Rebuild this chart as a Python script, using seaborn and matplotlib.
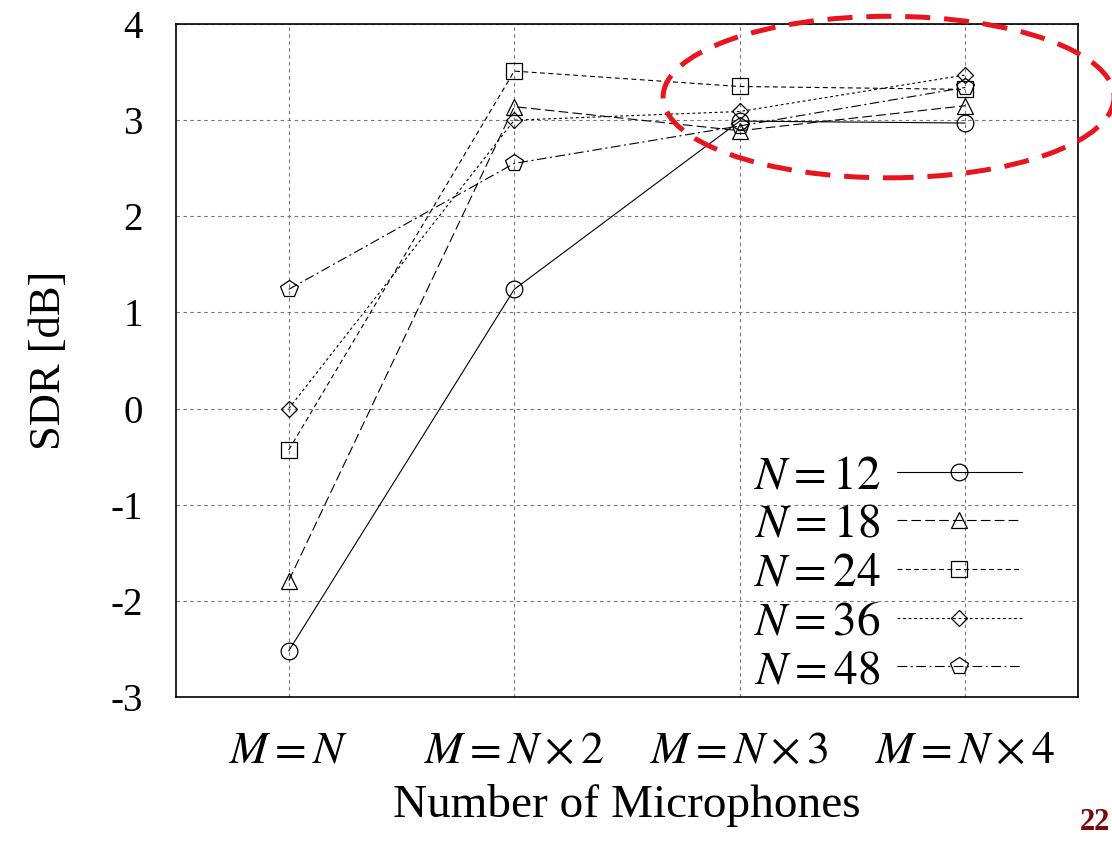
import numpy as np
import pandas as pd
import matplotlib
matplotlib.use("Agg")
import matplotlib.pyplot as plt
import seaborn as sns
from matplotlib.patches import Ellipse

# data
x_pos = [1, 2, 3, 4]
x_labels = [r"$M=N$", r"$M=N\times 2$", r"$M=N\times 3$", r"$M=N\times 4$"]
n_labels = [r"$N=12$", r"$N=18$", r"$N=24$", r"$N=36$", r"$N=48$"]
sdr_12 = [-2.52, 1.24, 2.99, 2.97]
sdr_18 = [-1.79, 3.14, 2.89, 3.15]
sdr_24 = [-0.43, 3.51, 3.35, 3.32]
sdr_36 = [0.00, 3.00, 3.09, 3.47]
sdr_48 = [1.24, 2.55, 2.94, 3.34]

sns.set_style("white")
plt.rcParams["font.family"] = ["Liberation Serif", "DejaVu Serif"]
plt.rcParams["mathtext.fontset"] = "stix"
plt.rcParams["lines.scale_dashes"] = False
plt.rcParams["axes.unicode_minus"] = False
plt.rcParams["text.color"] = "black"
plt.rcParams["axes.labelcolor"] = "black"
plt.rcParams["xtick.color"] = "black"
plt.rcParams["ytick.color"] = "black"

fig = plt.figure(figsize=(11.12, 8.41), dpi=100)
ax = fig.add_axes([176 / 1112, 1 - 697 / 841, (1078 - 176) / 1112, (697 - 24) / 841])

series = [sdr_12, sdr_18, sdr_24, sdr_36, sdr_48]
styles = [
    ("-", "o", 12),
    ((0, (7, 3)), "^", 12),
    ((0, (3.5, 2.5)), "s", 12),
    ((0, (2, 2)), "D", 8.5),
    ((0, (7, 2.5, 1.5, 2.5)), "p", 13),
]

for vals, lab, (ls, mk, ms) in zip(series, n_labels, styles):
    df = pd.DataFrame({"x": x_pos, "y": vals})
    sns.lineplot(data=df, x="x", y="y", ax=ax, color="black", linewidth=0.8,
                 linestyle=ls, marker=mk, markersize=ms, markerfacecolor="none",
                 markeredgecolor="black", markeredgewidth=0.9, label=lab)

ax.set_xlim(0.5, 4.5)
ax.set_ylim(-3, 4)
ax.set_xticks(x_pos)
ax.set_xticklabels(x_labels)
ax.set_yticks(range(-3, 5))
ax.grid(True, color="#777777", linestyle=(0, (2.5, 2.5)), linewidth=0.8)
ax.tick_params(axis="both", direction="in", length=5, labelsize=28, colors="black")
ax.tick_params(axis="x", pad=24, labelsize=33)
ax.tick_params(axis="y", pad=24)
for sp in ax.spines.values():
    sp.set_color("black")
    sp.set_linewidth(1.2)

ax.set_xlabel("Number of Microphones", fontsize=34, labelpad=8)
ax.set_ylabel("SDR [dB]", fontsize=32, labelpad=30)

leg = ax.legend(loc="lower right", bbox_to_anchor=((1022 - 176) / 902, 4 / 673),
                markerfirst=False, frameon=False, fontsize=34, handlelength=2.65,
                handletextpad=0.35, labelspacing=0.12, borderaxespad=0, borderpad=0)

ell = Ellipse((3.66, 3.24), 2.0, 1.68, fill=False, edgecolor="#e8141e", linewidth=3.6,
              linestyle=(0, (18, 10)), clip_on=False, zorder=10)
ax.add_patch(ell)

fig.text(1080 / 1112, 1 - 823 / 841, "22", color="#7a0a0a", fontsize=22,
         fontweight="bold", va="center", ha="left")

fig.savefig("out.png", dpi=100)
